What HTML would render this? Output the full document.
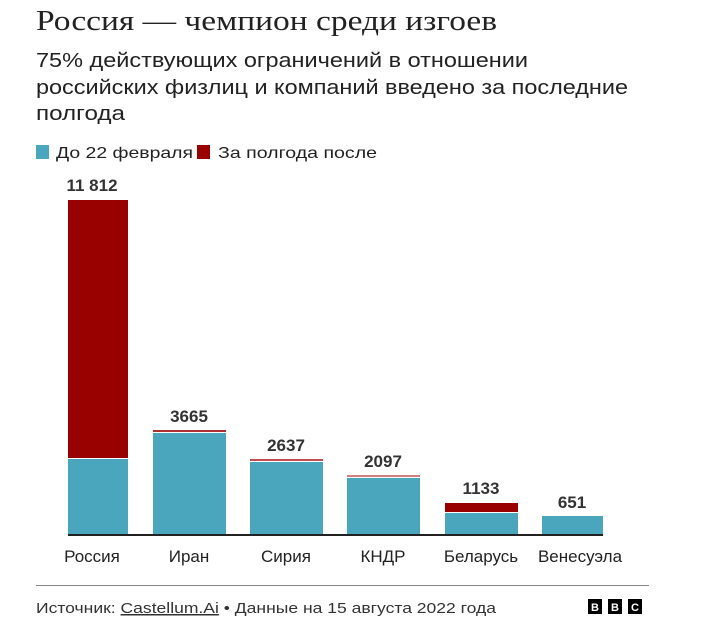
<!DOCTYPE html>
<html><head><meta charset="utf-8"><style>body{margin:0;background:#fff}svg{display:block}</style></head><body>
<svg width="711" height="625" xmlns="http://www.w3.org/2000/svg" font-family="Liberation Sans, DejaVu Sans, sans-serif">
<rect width="711" height="625" fill="#fff"/>
<text x="36" y="30" font-family="Liberation Serif, serif" font-size="29" fill="#222" textLength="461" lengthAdjust="spacingAndGlyphs">Россия — чемпион среди изгоев</text>
<g font-size="20" fill="#222">
<text x="36" y="67" textLength="492" lengthAdjust="spacingAndGlyphs">75% действующих ограничений в отношении</text>
<text x="36" y="94" textLength="592" lengthAdjust="spacingAndGlyphs">российских физлиц и компаний введено за последние</text>
<text x="36" y="120" textLength="89" lengthAdjust="spacingAndGlyphs">полгода</text>
</g>
<rect x="36" y="145" width="13" height="14" fill="#4aa6bc"/>
<text x="56" y="158" font-size="16" fill="#222" textLength="137" lengthAdjust="spacingAndGlyphs">До 22 февраля</text>
<rect x="197" y="145" width="13" height="14" fill="#990000"/>
<text x="218" y="158" font-size="16" fill="#222" textLength="159" lengthAdjust="spacingAndGlyphs">За полгода после</text>
<g>
<rect x="68" y="200" width="60" height="258" fill="#990000"/>
<rect x="68" y="459" width="60" height="76" fill="#4aa6bc"/>
<rect x="153" y="430" width="73" height="2" fill="#b03030"/>
<rect x="153" y="433" width="73" height="102" fill="#4aa6bc"/>
<rect x="250" y="459" width="73" height="2" fill="#c05050"/>
<rect x="250" y="462" width="73" height="73" fill="#4aa6bc"/>
<rect x="347" y="475" width="73" height="2" fill="#d08080"/>
<rect x="347" y="478" width="73" height="57" fill="#4aa6bc"/>
<rect x="445" y="503" width="73" height="9" fill="#990000"/>
<rect x="445" y="513" width="73" height="22" fill="#4aa6bc"/>
<rect x="542" y="516" width="61" height="19" fill="#4aa6bc"/>
<rect x="68" y="534" width="535" height="2" fill="#222"/>
</g>
<g font-size="17" font-weight="bold" fill="#333" text-anchor="middle">
<text x="92" y="191">11 812</text>
<text x="189" y="422">3665</text>
<text x="286" y="451">2637</text>
<text x="383" y="467">2097</text>
<text x="481" y="494">1133</text>
<text x="572" y="508">651</text>
</g>
<g font-size="17" fill="#222" text-anchor="middle">
<text x="92" y="562">Россия</text>
<text x="189" y="562">Иран</text>
<text x="286" y="562">Сирия</text>
<text x="383" y="562">КНДР</text>
<text x="481" y="562">Беларусь</text>
<text x="580" y="562">Венесуэла</text>
</g>
<rect x="36" y="585" width="613" height="1" fill="#888"/>
<text x="36" y="613" font-size="15" fill="#333" textLength="460" lengthAdjust="spacingAndGlyphs">Источник: <tspan text-decoration="underline">Castellum.Ai</tspan> • Данные на 15 августа 2022 года</text>
<g font-size="11" font-weight="bold" fill="#fff" text-anchor="middle">
<rect x="588" y="599" width="14" height="15" fill="#000"/><text x="595" y="611">B</text>
<rect x="608" y="599" width="14" height="15" fill="#000"/><text x="615" y="611">B</text>
<rect x="628" y="599" width="14" height="15" fill="#000"/><text x="635" y="611">C</text>
</g>
</svg>
</body></html>
